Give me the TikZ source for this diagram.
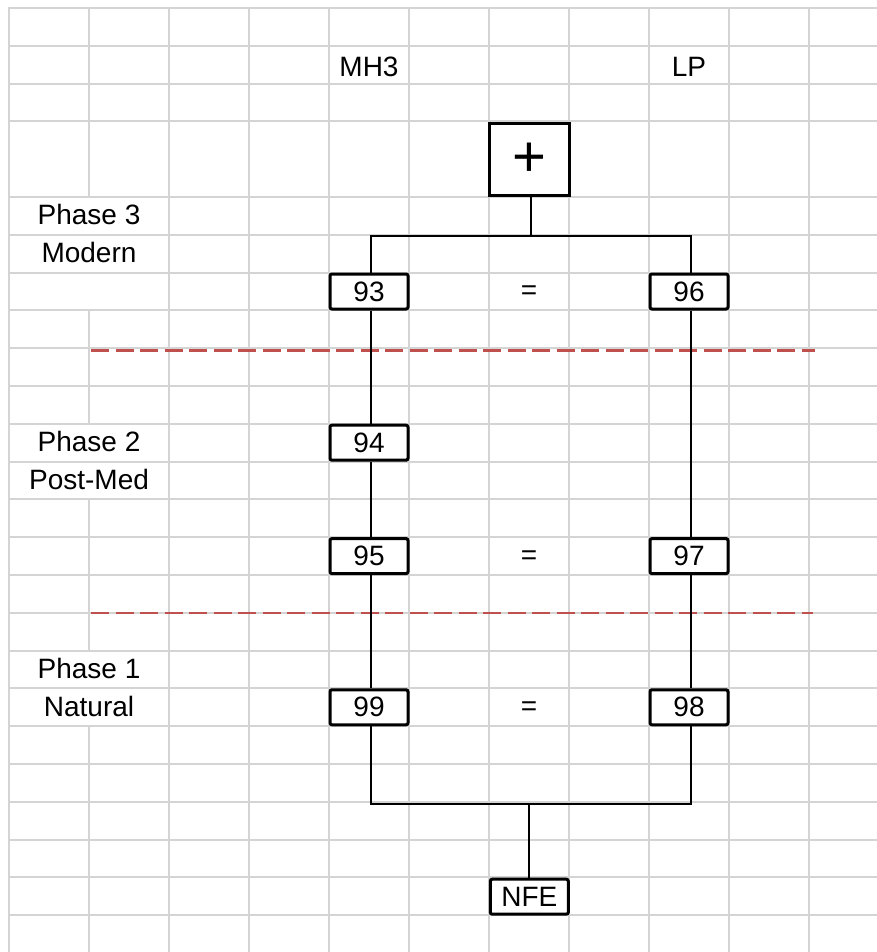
\documentclass[tikz,border=0pt]{standalone}
\usepackage{fontspec}
\setmainfont{Liberation Sans}
\definecolor{gridc}{RGB}{212,212,212}
\definecolor{phasered}{RGB}{192,80,77}
\begin{document}
\begin{tikzpicture}[x=1pt,y=-1pt,
  gridline/.style={draw=gridc,line width=2pt},
  phaseline/.style={draw=phasered,line width=2.6pt,dash pattern=on 18pt off 6.5pt},
  conn/.style={draw=black,line width=2pt},
  numbox/.style={draw=black,fill=white,line width=3pt,rounded corners=2pt,
    minimum width=78pt,minimum height=35pt,inner sep=0pt,
    font=\fontsize{28}{32}\selectfont},
  plusbox/.style={draw=black,fill=white,line width=3pt,
    minimum width=80pt,minimum height=72pt,inner sep=0pt,
    font=\fontsize{58}{62}\selectfont},
  lbl/.style={inner sep=0pt,font=\fontsize{28}{32}\selectfont},
]
\useasboundingbox (0,0) rectangle (877,952);
\fill[white] (0,0) rectangle (877,952);

% ---- spreadsheet grid ----
\foreach \k in {0,1,2,3}
  \draw[gridline] (8,{8+37.8*\k}) -- (877,{8+37.8*\k});
\foreach \k in {5,6,...,24}
  \draw[gridline] (8,{8+37.8*\k}) -- (877,{8+37.8*\k});
\foreach \i in {0,2,3,4,5,6,7,8,9,10}
  \draw[gridline] ({9+80*\i},7) -- ({9+80*\i},952);
% column line at x=89 interrupted by merged label cells
\draw[gridline] (89,7) -- (89,197);
\draw[gridline] (89,310.4) -- (89,423.8);
\draw[gridline] (89,499.4) -- (89,650.6);
\draw[gridline] (89,726.2) -- (89,952);

% ---- phase separators ----
\draw[phaseline] (91,350.5) -- (815,350.5);
\draw[phaseline] (91,613) -- (813,613);

% ---- labels ----
\node[lbl,anchor=base] (mh3) at (369,77) {MH3};
\node[lbl,anchor=base] (lp)  at (689,77) {LP};
\node[lbl,anchor=base] (ph3) at (89,224.9) {Phase 3};
\node[lbl,anchor=base] (mod) at (89,262.7) {Modern};
\node[lbl,anchor=base] (ph2) at (89,451.7) {Phase 2};
\node[lbl,anchor=base] (pmd) at (89,489.5) {Post-Med};
\node[lbl,anchor=base] (ph1) at (89,678.5) {Phase 1};
\node[lbl,anchor=base] (nat) at (89,716.3) {Natural};

% ---- boxes ----
\node[plusbox] (plus) at (529,159.6) {\raisebox{-3pt}{+}};
\node[numbox] (n93) at (369,291.5) {93};
\node[numbox] (n96) at (689,291.5) {96};
\node[numbox] (n94) at (369,442.7) {94};
\node[numbox] (n95) at (369,556.1) {95};
\node[numbox] (n97) at (689,556.1) {97};
\node[numbox] (n99) at (369,707.3) {99};
\node[numbox] (n98) at (689,707.3) {98};
\node[numbox] (nfe) at (529.3,896.7) {NFE};

\node[lbl] (eq1) at (529,293) {=};
\node[lbl] (eq2) at (529,557.6) {=};
\node[lbl] (eq3) at (529,708.8) {=};

% ---- connectors ----
\coordinate (topbus) at (531,236);
\coordinate (botbus) at (529,804);
\draw[conn] ([xshift=2pt]plus.south) -- (topbus);
\draw[conn] ([xshift=1.5pt]n93.north) |- (topbus) -| ([xshift=1.5pt]n96.north);
\draw[conn] ([xshift=1.5pt]n93.south) -- ([xshift=1.5pt]n94.north);
\draw[conn] ([xshift=1.5pt]n94.south) -- ([xshift=1.5pt]n95.north);
\draw[conn] ([xshift=1.5pt]n95.south) -- ([xshift=1.5pt]n99.north);
\draw[conn] ([xshift=1.5pt]n96.south) -- ([xshift=1.5pt]n97.north);
\draw[conn] ([xshift=1.5pt]n97.south) -- ([xshift=1.5pt]n98.north);
\draw[conn] ([xshift=1.5pt]n99.south) |- (botbus) -| ([xshift=1.5pt]n98.south);
\draw[conn] (nfe.north) -- (nfe.north |- botbus);
\end{tikzpicture}
\end{document}
